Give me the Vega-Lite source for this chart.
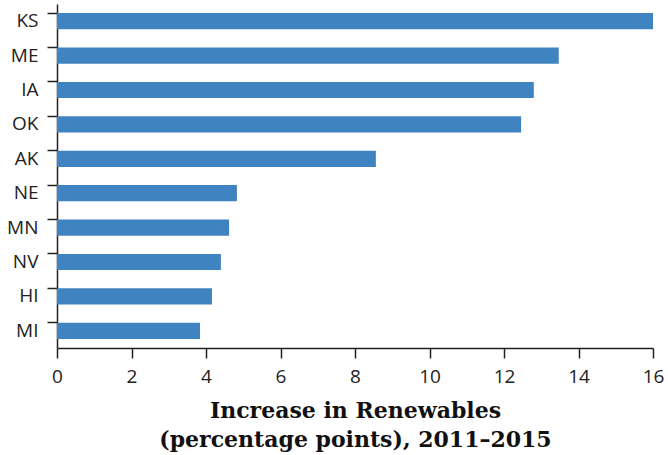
{
  "$schema": "https://vega.github.io/schema/vega-lite/v6.json",
  "width": 596,
  "height": 344,
  "autosize": "none",
  "padding": {"left": 57, "top": 4, "right": 15, "bottom": 107},
  "data": {
    "values": [
      {"state": "KS", "value": 16.0},
      {"state": "ME", "value": 13.47},
      {"state": "IA", "value": 12.8},
      {"state": "OK", "value": 12.46},
      {"state": "AK", "value": 8.56},
      {"state": "NE", "value": 4.83},
      {"state": "MN", "value": 4.62},
      {"state": "NV", "value": 4.4},
      {"state": "HI", "value": 4.16},
      {"state": "MI", "value": 3.84}
    ]
  },
  "config": {
    "view": {"stroke": null},
    "axis": {
      "domainColor": "#222",
      "domainWidth": 1.5,
      "tickColor": "#222",
      "tickWidth": 1.5,
      "tickSize": 10,
      "grid": false,
      "labelFont": "Open Sans",
      "labelFontSize": 19,
      "labelColor": "#222"
    }
  },
  "mark": {"type": "bar", "color": "#3f84c0"},
  "encoding": {
    "y": {
      "field": "state",
      "type": "nominal",
      "sort": null,
      "scale": {"paddingInner": 0.53, "paddingOuter": 0.265},
      "axis": {"title": null, "bandPosition": 0, "labelPadding": 9, "labelBaseline": "middle"}
    },
    "x": {
      "field": "value",
      "type": "quantitative",
      "scale": {"domain": [0, 16], "nice": false},
      "axis": {
        "values": [0, 2, 4, 6, 8, 10, 12, 14, 16],
        "labelFlush": false,
        "labelPadding": 9,
        "title": ["Increase in Renewables", "(percentage points), 2011–2015"],
        "titleFont": "DejaVu Serif",
        "titleFontSize": 22,
        "titleFontWeight": "bold",
        "titleColor": "#111",
        "titlePadding": 14,
        "titleLineHeight": 29
      }
    }
  }
}
